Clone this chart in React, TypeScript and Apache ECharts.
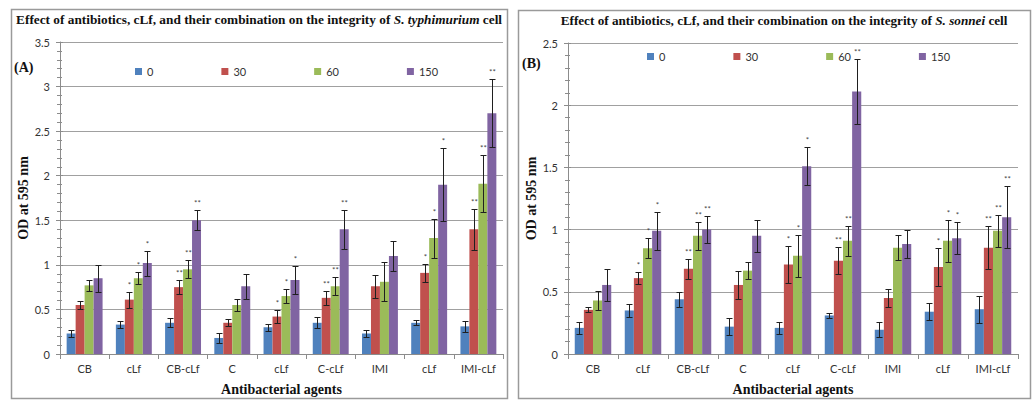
import React, { useEffect, useRef } from "react";
import * as echarts from "echarts";

const categories = ["CB", "cLf", "CB-cLf", "C", "cLf", "C-cLf", "IMI", "cLf", "IMI-cLf"];
const seriesNames = ["0", "30", "60", "150"];
const colors = ["#4F81BD", "#C0504D", "#9BBB59", "#8064A2"];

// Panel A: S. typhimurium
const a0 = [0.23, 0.33, 0.35, 0.18, 0.30, 0.35, 0.23, 0.35, 0.31];
const a30 = [0.55, 0.61, 0.75, 0.35, 0.42, 0.63, 0.76, 0.91, 1.40];
const a60 = [0.77, 0.85, 0.95, 0.55, 0.65, 0.76, 0.81, 1.30, 1.91];
const a150 = [0.85, 1.02, 1.50, 0.76, 0.83, 1.40, 1.10, 1.90, 2.70];
const a0Err = [0.04, 0.04, 0.05, 0.06, 0.04, 0.06, 0.04, 0.03, 0.06];
const a30Err = [0.04, 0.09, 0.08, 0.04, 0.07, 0.08, 0.13, 0.10, 0.23];
const a60Err = [0.06, 0.07, 0.10, 0.07, 0.08, 0.10, 0.22, 0.22, 0.32];
const a150Err = [0.15, 0.14, 0.11, 0.14, 0.16, 0.22, 0.17, 0.41, 0.38];
const aMarks = ["", "*", "**", "", "*", "**", "", "*", "**"];

// Panel B: S. sonnei
const b0 = [0.21, 0.35, 0.44, 0.22, 0.21, 0.31, 0.195, 0.34, 0.36];
const b30 = [0.355, 0.61, 0.685, 0.555, 0.72, 0.75, 0.45, 0.70, 0.855];
const b60 = [0.43, 0.85, 0.95, 0.67, 0.79, 0.91, 0.855, 0.91, 0.99];
const b150 = [0.555, 0.99, 1.0, 0.95, 1.51, 2.11, 0.885, 0.93, 1.10];
const b0Err = [0.05, 0.05, 0.06, 0.07, 0.05, 0.02, 0.06, 0.07, 0.11];
const b30Err = [0.02, 0.05, 0.08, 0.11, 0.15, 0.11, 0.07, 0.15, 0.17];
const b60Err = [0.08, 0.08, 0.11, 0.07, 0.17, 0.12, 0.10, 0.17, 0.13];
const b150Err = [0.13, 0.15, 0.11, 0.13, 0.15, 0.26, 0.11, 0.13, 0.25];
const bMarks = ["", "*", "**", "", "*", "**", "", "*", "**"];

const yTicksA = { min: 0, max: 3.5, interval: 0.5 };
const yTicksB = { min: 0, max: 2.5, interval: 0.5 };

const CAT_GAP = 0.27;
const SANS = "Lato";
const SERIF = "Liberation Serif";

function buildPanel(p: number, vals: number[][], errs: number[][], marks: string[]) {
  const bars = vals.map((v, s) => ({
    name: seriesNames[s],
    type: "bar",
    xAxisIndex: p,
    yAxisIndex: p * 2,
    data: v,
    barGap: "0%",
    barCategoryGap: CAT_GAP * 100 + "%",
    itemStyle: { color: colors[s] },
  }));
  const items: number[][] = [];
  const labels: string[] = [];
  vals.forEach((v, s) => {
    v.forEach((val, ci) => {
      items.push([ci, val, errs[s][ci], s]);
      labels.push(s === 0 ? "" : marks[ci]);
    });
  });
  const err = {
    type: "custom",
    xAxisIndex: p,
    yAxisIndex: p * 2,
    data: items,
    z: 10,
    silent: true,
    renderItem: (params: any, api: any) => {
      const ci = api.value(0);
      const v = api.value(1);
      const e = api.value(2);
      const s = api.value(3);
      const band = api.size([1, 0])[0];
      const bw = (band * (1 - CAT_GAP)) / 4;
      const base = api.coord([ci, v]);
      const x = Math.round(base[0] + (s - 1.5) * bw) + 0.5;
      const yT = Math.round(api.coord([ci, v + e])[1]) + 0.5;
      const yB = Math.round(api.coord([ci, v - e])[1]) + 0.5;
      const c = 3;
      const st = { stroke: "#1f1f1f", lineWidth: 1 };
      const children: any[] = [
        { type: "line", shape: { x1: x, y1: yT, x2: x, y2: yB }, style: st },
        { type: "line", shape: { x1: x - c, y1: yT, x2: x + c, y2: yT }, style: st },
        { type: "line", shape: { x1: x - c, y1: yB, x2: x + c, y2: yB }, style: st },
      ];
      const lab = labels[params.dataIndex];
      if (lab) {
        children.push({
          type: "text",
          style: {
            text: lab,
            x: x,
            y: yT - 4,
            align: "center",
            verticalAlign: "bottom",
            fontSize: 8,
            fill: "#444",
            fontFamily: SANS,
          },
        });
      }
      return { type: "group", children };
    },
  };
  return [...bars, err];
}

function xAxisFor(p: number, nameGap: number) {
  return {
    type: "category",
    gridIndex: p,
    data: categories,
    boundaryGap: true,
    axisLine: { lineStyle: { color: "#8c8c8c" } },
    axisTick: { show: true, length: 5, lineStyle: { color: "#8c8c8c" } },
    axisLabel: { fontSize: 11, color: "#333", fontFamily: SANS, margin: 9, interval: 0 },
    name: "Antibacterial agents",
    nameLocation: "middle",
    nameGap,
    nameTextStyle: { fontFamily: SERIF, fontWeight: "bold", fontSize: 14, color: "#111" },
    splitLine: { show: false },
  };
}

function yAxesFor(p: number, t: { min: number; max: number; interval: number }, nameGap: number) {
  return [
    {
      type: "value",
      gridIndex: p,
      position: "left",
      min: t.min,
      max: t.max,
      interval: t.interval,
      axisLine: { show: true, lineStyle: { color: "#8c8c8c" } },
      axisTick: { show: true, length: 4, lineStyle: { color: "#8c8c8c" } },
      minorTick: { show: true, splitNumber: 5, length: 3, lineStyle: { color: "#8c8c8c" } },
      splitLine: { show: true, lineStyle: { color: "#a0a0a0" } },
      axisLabel: { fontSize: 11, color: "#333", fontFamily: SANS, margin: 10 },
      name: "OD at 595 nm",
      nameLocation: "middle",
      nameGap,
      nameTextStyle: { fontFamily: SERIF, fontWeight: "bold", fontSize: 14, color: "#111" },
    },
    {
      type: "value",
      gridIndex: p,
      position: "left",
      min: t.min,
      max: t.max,
      interval: t.interval,
      axisLine: { show: false },
      axisTick: { show: true, inside: true, length: 3, lineStyle: { color: "#8c8c8c" } },
      minorTick: { show: true, splitNumber: 5, length: 2, lineStyle: { color: "#8c8c8c" } },
      splitLine: { show: false },
      axisLabel: { show: false },
    },
  ];
}

function titleText(x: number, y: number, species: string, size: number) {
  return {
    type: "text",
    x,
    y,
    style: {
      text:
        "{b|Effect of antibiotics, cLf, and their combination on the integrity of }{i|" +
        species +
        "}{b| cell}",
      align: "center",
      verticalAlign: "middle",
      rich: {
        b: { fontFamily: SERIF, fontWeight: "bold", fontSize: size, fill: "#111" },
        i: { fontFamily: SERIF, fontWeight: "bold", fontStyle: "italic", fontSize: size, fill: "#111" },
      },
    },
  };
}

function legendFor(left: number, top: number) {
  return {
    data: seriesNames,
    left,
    top,
    orient: "horizontal",
    icon: "rect",
    itemWidth: 7,
    itemHeight: 7,
    itemGap: 68,
    textStyle: { fontSize: 11, color: "#333", fontFamily: SANS },
    selectedMode: false,
  };
}

export default function App() {
  const ref = useRef<HTMLDivElement>(null);
  useEffect(() => {
    if (!ref.current) return;
    const chart = echarts.init(ref.current, undefined, { renderer: "svg" });
    const option: any = {
      animation: false,
      backgroundColor: "#ffffff",
      color: colors,
      grid: [
        { left: 60, right: 532, top: 42, bottom: 47 },
        { left: 568, right: 17, top: 43, bottom: 45 },
      ],
      legend: [legendFor(130, 61), legendFor(642, 46)],
      xAxis: [xAxisFor(0, 28), xAxisFor(1, 28)],
      yAxis: [...yAxesFor(0, yTicksA, 30), ...yAxesFor(1, yTicksB, 26)],
      series: [
        ...buildPanel(0, [a0, a30, a60, a150], [a0Err, a30Err, a60Err, a150Err], aMarks),
        ...buildPanel(1, [b0, b30, b60, b150], [b0Err, b30Err, b60Err, b150Err], bMarks),
      ],
      graphic: [
        {
          type: "rect",
          shape: { x: 11.5, y: 9.5, width: 496, height: 389 },
          style: { fill: "none", stroke: "#9a9a9a", lineWidth: 1.5 },
          silent: true,
        },
        {
          type: "rect",
          shape: { x: 518.5, y: 10.5, width: 512, height: 388 },
          style: { fill: "none", stroke: "#9a9a9a", lineWidth: 1.5 },
          silent: true,
        },
        titleText(259, 19, "S. typhimurium", 13.3),
        titleText(784, 20, "S. sonnei", 13.2),
        {
          type: "text",
          x: 14,
          y: 67,
          style: { text: "(A)", fontFamily: SERIF, fontWeight: "bold", fontSize: 14, fill: "#111", verticalAlign: "middle" },
        },
        {
          type: "text",
          x: 522,
          y: 63,
          style: { text: "(B)", fontFamily: SERIF, fontWeight: "bold", fontSize: 14, fill: "#111", verticalAlign: "middle" },
        },
      ],
    };
    chart.setOption(option);
    return () => chart.dispose();
  }, []);
  return (
    <div
      ref={ref}
      style={{ position: "absolute", left: 0, top: 0, width: 1035, height: 401, background: "#fff" }}
    />
  );
}
